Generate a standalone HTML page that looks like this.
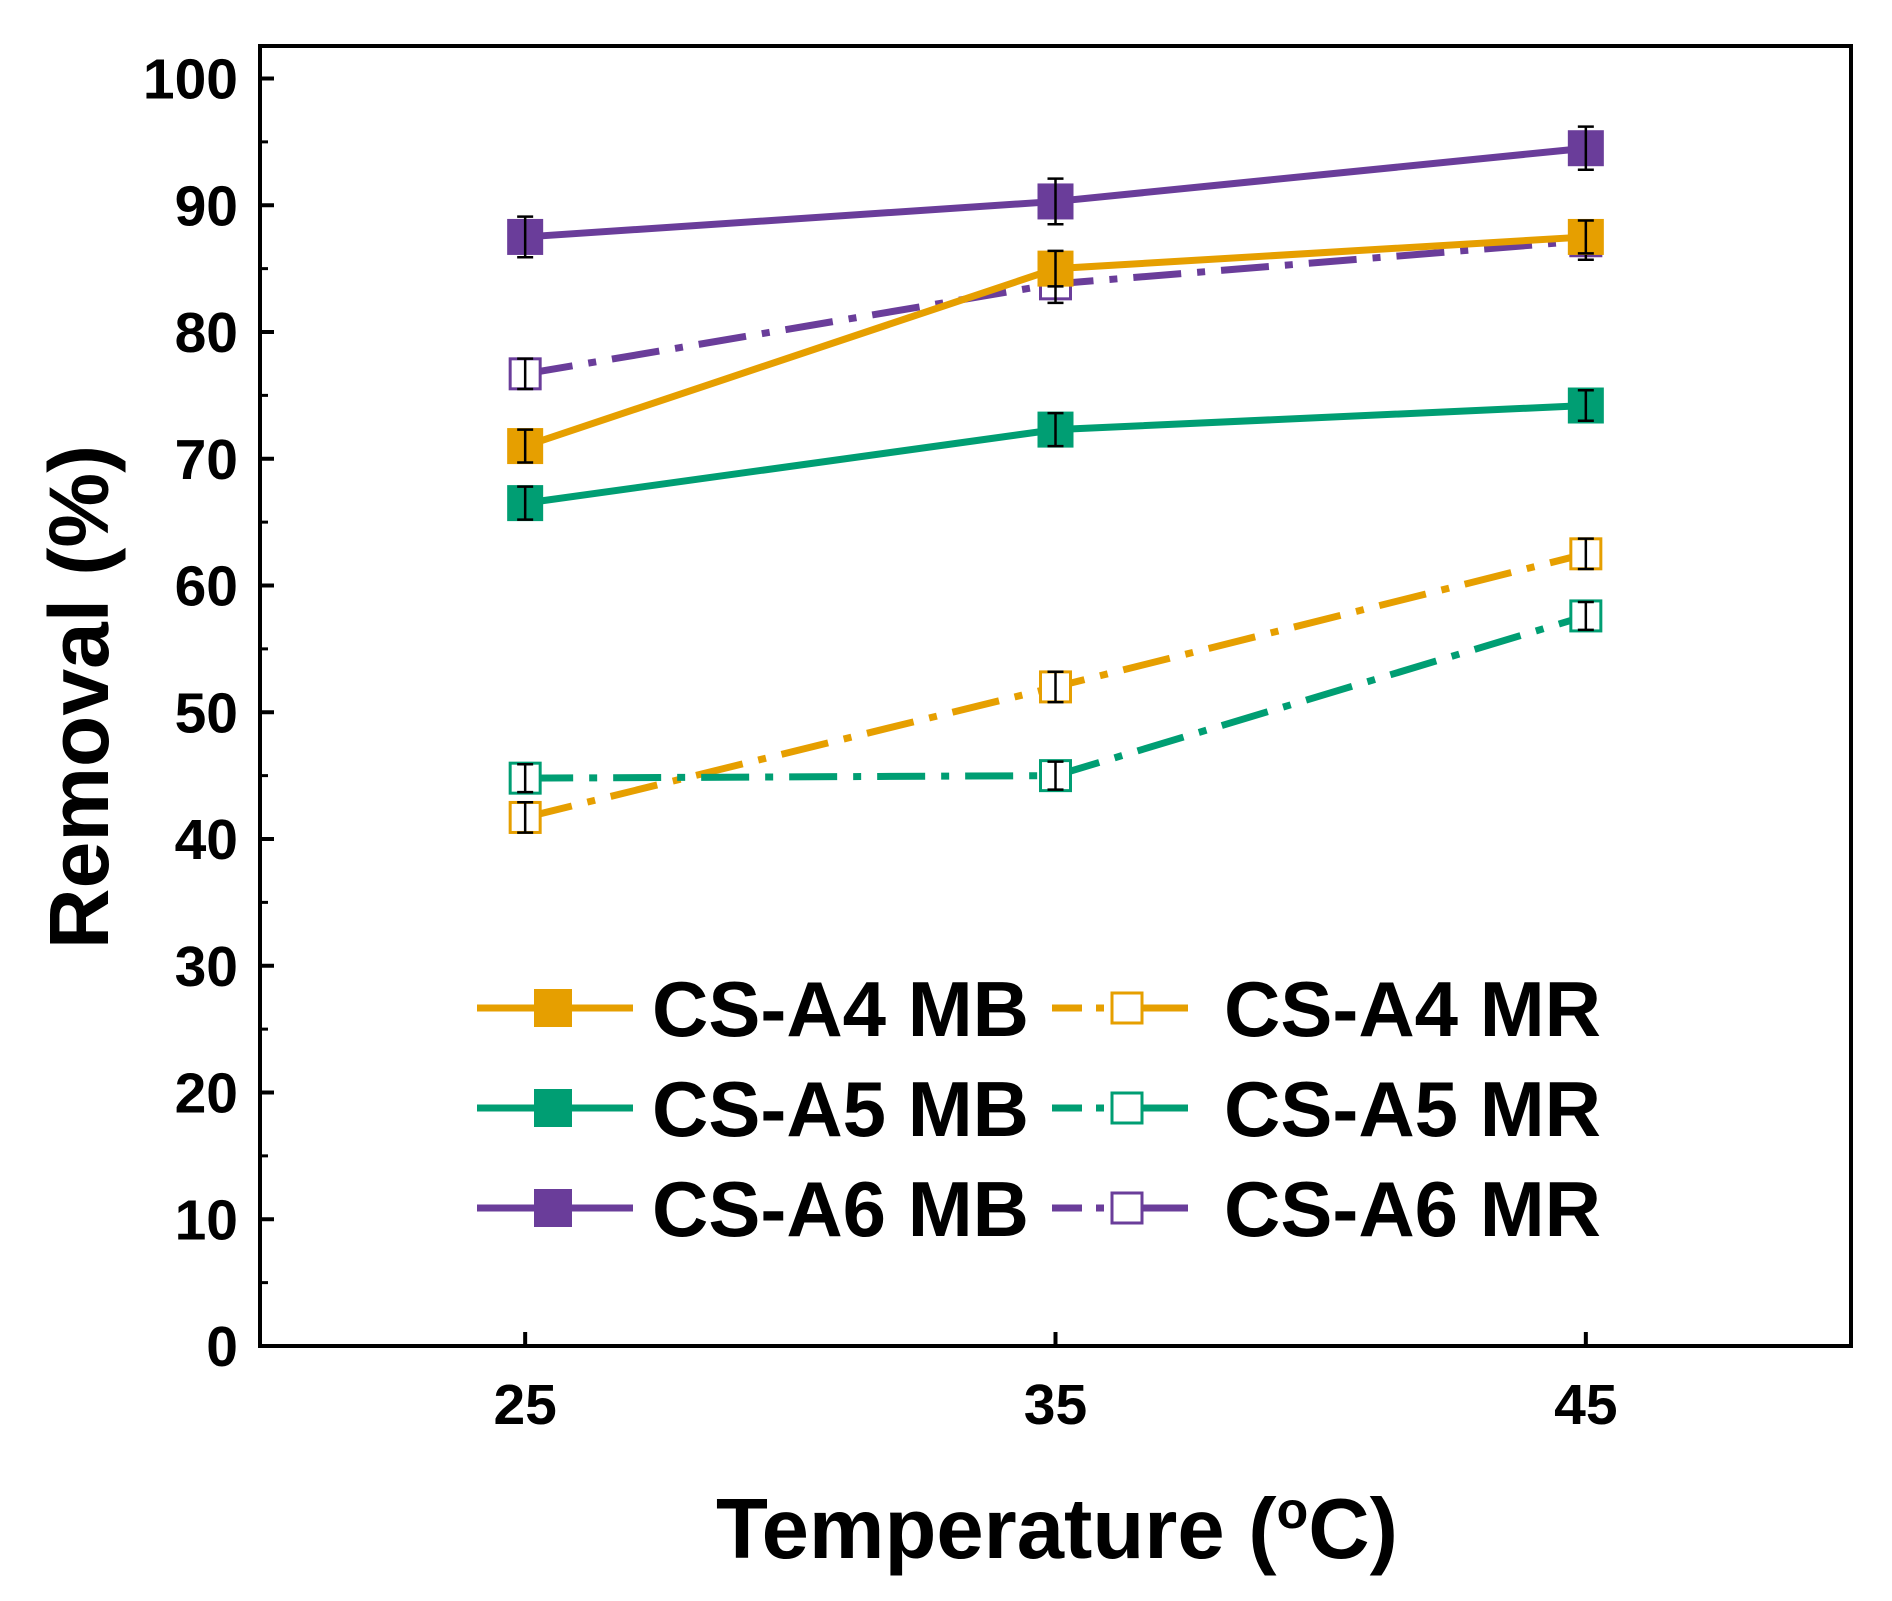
<!DOCTYPE html>
<html><head><meta charset="utf-8"><style>
html,body{margin:0;padding:0;background:#fff}
svg{display:block}
text{font-family:"Liberation Sans",Arial,sans-serif;font-weight:bold;fill:#000}
</style></head><body>
<svg id="chart" width="1892" height="1601" viewBox="0 0 1892 1601" xmlns="http://www.w3.org/2000/svg">
<g id="grid"></g>
<g id="series"></g>
<g id="legend"></g>
</svg>
<script>
const categories=[25,35,45];
const a4mb=[71,85,87.5];
const a5mb=[66.5,72.3,74.2];
const a6mb=[87.5,90.3,94.5];
const a4mr=[41.7,52,62.5];
const a5mr=[44.8,45,57.6];
const a6mr=[76.7,83.8,87.2];
const errA4mb=[1.3,1.4,1.3];
const errA5mb=[1.3,1.3,1.2];
const errA6mb=[1.6,1.8,1.7];
const errA4mr=[1.2,1.2,1.2];
const errA5mr=[1.1,1.1,1.1];
const errA6mr=[1.2,1.5,1.5];
const yTicks=[0,10,20,30,40,50,60,70,80,90,100];
const xTicks=[25,35,45];
const legendLabels=["CS-A4 MB","CS-A4 MR","CS-A5 MB","CS-A5 MR","CS-A6 MB","CS-A6 MR"];

const NS="http://www.w3.org/2000/svg";
const L=260,R=1851,T=46,B=1346;
const x=v=>L+(v-20)/30*(R-L);
const y=v=>B-v/100*(B-78.5);
function mk(tag,attrs,parent){const e=document.createElementNS(NS,tag);for(const k in attrs)e.setAttribute(k,attrs[k]);parent.appendChild(e);return e;}
const grid=document.getElementById('grid');
const ser=document.getElementById('series');
const leg=document.getElementById('legend');

const frame=mk('rect',{x:L,y:T,width:R-L,height:B-T,fill:'none',stroke:'#000','stroke-width':4},grid);


yTicks.forEach((t,i)=>{
  const tk=mk('line',{x1:L,x2:L+14,y1:y(t),y2:y(t),stroke:'#000','stroke-width':4},grid);
  
  
  if(i<yTicks.length-1){const m=mk('line',{x1:L,x2:L+8,y1:y(t+5),y2:y(t+5),stroke:'#000','stroke-width':3},grid);
  
  }
  const lb=mk('text',{x:L-22,y:y(t)+20,'text-anchor':'end','font-size':57},grid);
  lb.textContent=t;
  
  
});
xTicks.forEach(t=>{
  const tk=mk('line',{x1:x(t),x2:x(t),y1:B,y2:B-14,stroke:'#000','stroke-width':4},grid);
  
  
  const lb=mk('text',{x:x(t),y:B+78,'text-anchor':'middle','font-size':57},grid);
  lb.textContent=t;
  
  
});
const xt=mk('text',{x:1057,y:1558,'text-anchor':'middle','font-size':85},grid);
xt.innerHTML='Temperature (<tspan dy="-30" font-size="52">o</tspan><tspan dy="30">C)</tspan>';


const yt=mk('text',{x:0,y:0,'text-anchor':'middle','font-size':84,transform:'translate(108,697) rotate(-90)'},grid);
yt.textContent='Removal (%)';



const OR='#E69F00',GR='#009E73',PU='#6A3D9A';
const DASH='48 16 8 16';
const seriesList=[
 {n:'cs-a4-mr',d:a4mr,e:errA4mr,c:OR,open:true},
 {n:'cs-a5-mr',d:a5mr,e:errA5mr,c:GR,open:true},
 {n:'cs-a6-mr',d:a6mr,e:errA6mr,c:PU,open:true},
 {n:'cs-a5-mb',d:a5mb,e:errA5mb,c:GR,open:false},
 {n:'cs-a4-mb',d:a4mb,e:errA4mb,c:OR,open:false},
 {n:'cs-a6-mb',d:a6mb,e:errA6mb,c:PU,open:false},
];
seriesList.forEach(s=>{
  const g=mk('g',{},ser);
  
  
  const pts=s.d.map((v,i)=>x(categories[i])+','+y(v)).join(' ');
  const pl=mk('polyline',{points:pts,fill:'none',stroke:s.c,'stroke-width':7,'stroke-dasharray':s.open?DASH:'none'},g);
  
  
  s.d.forEach((v,i)=>{
    const cx=x(categories[i]),cy=y(v),sz=s.open?30:36;
    const m=mk('rect',{x:cx-sz/2,y:cy-sz/2,width:sz,height:sz,fill:s.open?'#fff':s.c,stroke:s.c,'stroke-width':s.open?3:0},g);
    
    
    const y1=y(v+s.e[i]),y2=y(v-s.e[i]);
    const eb=mk('path',{d:`M${cx},${y1}V${y2}M${cx-8},${y1}H${cx+8}M${cx-8},${y2}H${cx+8}`,stroke:'#000','stroke-width':2.5,fill:'none'},g);
    
    
  });
});

const legCols=[{lx:477,mx:553,tx:652},{lx:1052,mx:1127,tx:1224}];
const legRows=[1008,1108,1208];
const legColors=[OR,OR,GR,GR,PU,PU];
legendLabels.forEach((lab,i)=>{
  const col=legCols[i%2],ry=legRows[Math.floor(i/2)],open=i%2===1,c=legColors[i];
  const g=mk('g',{},leg);
  
  
  mk('line',{x1:col.lx,x2:col.lx+156,y1:ry,y2:ry,stroke:c,'stroke-width':7,'stroke-dasharray':open?'30 14 8 14 70':'none'},g);
  const sz=open?30:38;
  mk('rect',{x:col.mx-sz/2,y:ry-sz/2,width:sz,height:sz,fill:open?'#fff':c,stroke:c,'stroke-width':open?3:0},g);
  const t=mk('text',{x:col.tx,y:ry+28,'font-size':78},g);
  t.textContent=lab;
});
</script>
</body></html>
